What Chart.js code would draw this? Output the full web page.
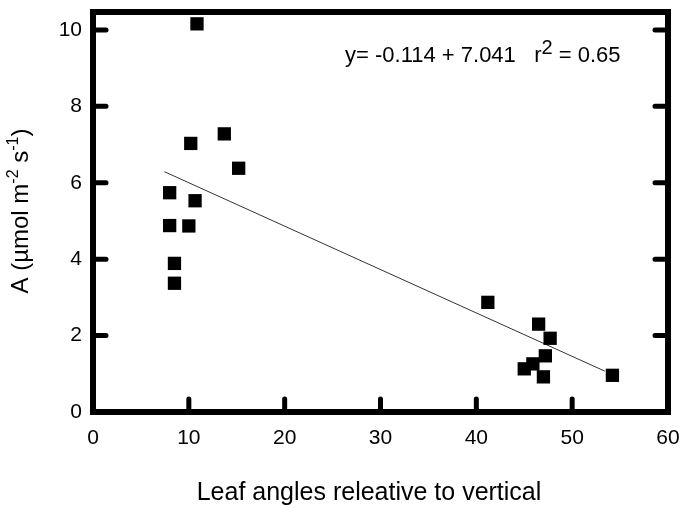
<!DOCTYPE html>
<html lang="en">
    <head>
        <meta charset="UTF-8">
        <title>Leaf angle vs A</title>
        <style>
            body { margin: 0; background: #fff; }
        </style>
    </head>
    <body>
        <canvas id="myChart" width="684" height="508"></canvas>
        <script src="https://cdn.jsdelivr.net/npm/chart.js@4.4.1/dist/chart.umd.min.js"></script>
        <script>
            // values
            const angleX = [10.85, 13.7, 10.2, 15.2, 8.0, 10.65, 8.0, 10.0, 8.5, 8.5, 41.2, 46.5, 47.7, 47.2, 45.9, 45.0, 47.0, 54.2];
            const rateA  = [10.16, 7.28, 7.03, 6.38, 5.74, 5.53, 4.88, 4.87, 3.89, 3.37, 2.87, 2.30, 1.93, 1.47, 1.26, 1.13, 0.92, 0.96];
            const fitX = [7.45, 53.4];
            const fitY = [6.29, 1.07];
            const xTicks = [0, 10, 20, 30, 40, 50, 60];
            const yTicks = [0, 2, 4, 6, 8, 10];

            const FONT = '"Liberation Sans", Arial, sans-serif';

            function noPad(s) {
                s.paddingLeft = 0; s.paddingRight = 0; s.paddingTop = 0; s.paddingBottom = 0;
            }

            const frame = {
                id: 'frame',
                afterDatasetsDraw(chart) {
                    const c = chart.ctx, a = chart.chartArea;
                    const xs = chart.scales.x, ys = chart.scales.y;
                    c.save();
                    c.strokeStyle = '#000';
                    // inward ticks
                    c.lineWidth = 5;
                    c.lineCap = 'round';
                    c.beginPath();
                    yTicks.slice(1).forEach(function (v) {
                        const p = ys.getPixelForValue(v);
                        c.moveTo(a.left, p); c.lineTo(a.left + 13, p);
                        c.moveTo(a.right, p); c.lineTo(a.right - 13, p);
                    });
                    xTicks.slice(1, -1).forEach(function (v) {
                        const p = xs.getPixelForValue(v);
                        c.moveTo(p, a.bottom); c.lineTo(p, a.bottom - 13);
                    });
                    c.stroke();
                    // box
                    c.lineWidth = 6;
                    c.lineCap = 'butt';
                    c.lineJoin = 'miter';
                    c.strokeRect(a.left, a.top, a.right - a.left, a.bottom - a.top);

                    c.fillStyle = '#000';
                    c.textBaseline = 'alphabetic';
                    // x title
                    c.font = '25px ' + FONT;
                    c.textAlign = 'center';
                    c.fillText('Leaf angles releative to vertical', 369, 500);

                    // equation
                    c.textAlign = 'left';
                    let x = 345;
                    const parts = [['y= -0.114 + 7.041   r', 22, 0], ['2', 20, -8], [' = 0.65', 22, 0]];
                    parts.forEach(function (p) {
                        c.font = p[1] + 'px ' + FONT;
                        c.fillText(p[0], x, 62 + p[2]);
                        x += c.measureText(p[0]).width;
                    });

                    // y title, rotated
                    const yParts = [['A (\u00b5mol m', 24, 0], ['-2', 16, -10], [' s', 24, 0], ['-1', 16, -10], [')', 24, 0]];
                    let total = 0;
                    yParts.forEach(function (p) {
                        c.font = p[1] + 'px ' + FONT;
                        total += c.measureText(p[0]).width;
                    });
                    c.translate(28, 211);
                    c.rotate(-Math.PI / 2);
                    let t = -total / 2;
                    yParts.forEach(function (p) {
                        c.font = p[1] + 'px ' + FONT;
                        c.fillText(p[0], t, p[2]);
                        t += c.measureText(p[0]).width;
                    });
                    c.restore();
                }
            };

            const ctx = document.getElementById('myChart').getContext('2d');
            new Chart(ctx, {
                type: 'scatter',
                data: {
                    datasets: [{
                        data: angleX.map(function (v, i) { return { x: v, y: rateA[i] }; }),
                        pointStyle: 'rect',
                        pointRadius: 9.4,
                        pointBorderWidth: 0,
                        backgroundColor: '#000',
                        borderColor: '#000'
                    }, {
                        type: 'line',
                        data: fitX.map(function (v, i) { return { x: v, y: fitY[i] }; }),
                        borderColor: '#333',
                        borderWidth: 1,
                        pointRadius: 0,
                        fill: false
                    }]
                },
                options: {
                    responsive: false,
                    animation: false,
                    devicePixelRatio: 1,
                    layout: { padding: { top: 12, right: 16, left: 0, bottom: 0 } },
                    plugins: { legend: { display: false }, tooltip: { enabled: false } },
                    scales: {
                        x: {
                            type: 'linear',
                            min: 0,
                            max: 60,
                            afterFit: function (s) { s.height = 96; noPad(s); },
                            afterBuildTicks: function (s) { s.ticks = xTicks.map(function (v) { return { value: v }; }); },
                            grid: { display: false, drawTicks: false },
                            border: { display: false },
                            ticks: { color: '#000', padding: 14, maxRotation: 0, font: { family: FONT, size: 21 } }
                        },
                        y: {
                            min: 0,
                            max: 10.47,
                            afterFit: function (s) { s.width = 93; noPad(s); },
                            afterBuildTicks: function (s) { s.ticks = yTicks.map(function (v) { return { value: v }; }); },
                            grid: { display: false, drawTicks: false },
                            border: { display: false },
                            ticks: { color: '#000', padding: 11, font: { family: FONT, size: 21 } }
                        }
                    }
                },
                plugins: [frame]
            });
        </script>
    </body>
</html>
